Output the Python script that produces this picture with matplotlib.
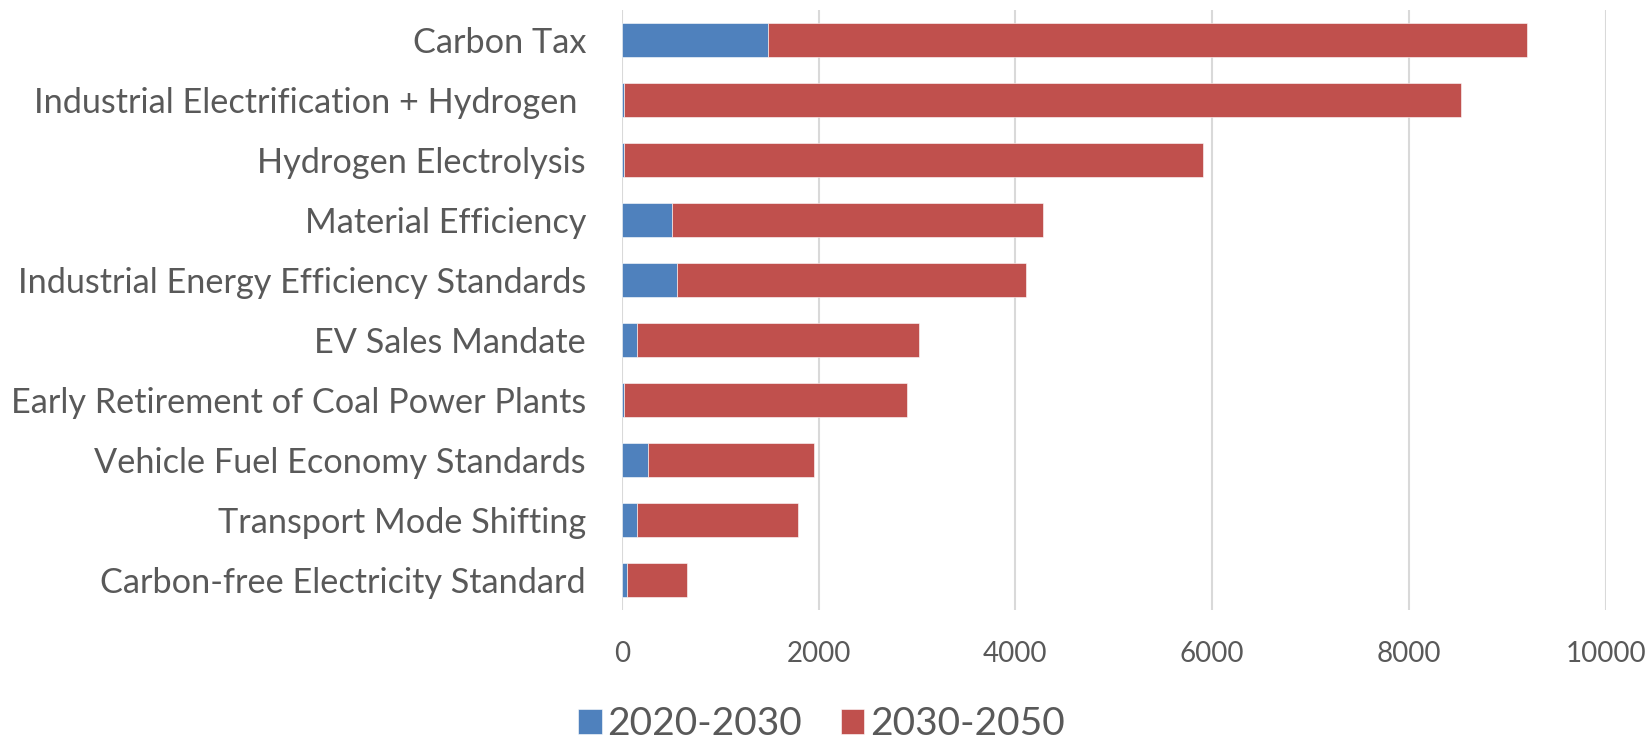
import matplotlib
matplotlib.use("Agg")
import matplotlib.pyplot as plt

# data, top to bottom
policies = [
    "Carbon Tax",
    "Industrial Electrification + Hydrogen ",
    "Hydrogen Electrolysis",
    "Material Efficiency",
    "Industrial Energy Efficiency Standards",
    "EV Sales Mandate",
    "Early Retirement of Coal Power Plants",
    "Vehicle Fuel Economy Standards",
    "Transport Mode Shifting",
    "Carbon-free Electricity Standard",
]
period_2020_2030 = [1480, 20, 20, 512, 563, 156, 20, 268, 156, 51]
period_2030_2050 = [7726, 8513, 5889, 3766, 3542, 2867, 2878, 1684, 1634, 610]
x_ticks = [0, 2000, 4000, 6000, 8000, 10000]

plt.rcParams['font.family'] = ['Lato', 'DejaVu Sans']
grey = '#595959'

fig = plt.figure(figsize=(16.5, 7.47), dpi=100)
ax = fig.add_axes([622 / 1650, 1 - 610 / 747, 983.5 / 1650, 600 / 747])

y = list(range(len(policies)))
ax.barh(y, period_2020_2030, height=0.57, color='#4F81BD', label='2020-2030',
        edgecolor='white', linewidth=0.4, zorder=3)
ax.barh(y, period_2030_2050, left=period_2020_2030, height=0.57, color='#C0504D',
        label='2030-2050', edgecolor='white', linewidth=0.4, zorder=3)

ax.set_ylim(len(policies) - 0.5, -0.5)
ax.set_xlim(0, 10000)
ax.set_yticks(y)
ax.set_yticklabels(policies, fontsize=24.7, color=grey)
ax.set_xticks(x_ticks)
ax.set_xticklabels([str(t) for t in x_ticks], fontsize=20, color=grey)
ax.tick_params(axis='y', length=0, pad=26)
ax.tick_params(axis='x', length=0, pad=22)
ax.grid(axis='x', color='#d9d9d9', linewidth=1.5, zorder=0)
for s in ax.spines.values():
    s.set_visible(False)

fig.legend(loc='center', bbox_to_anchor=(0.498, 1 - 724 / 747), ncol=2, frameon=False,
           fontsize=28, labelcolor=grey, handlelength=0.6, handleheight=0.6,
           handletextpad=0.15, columnspacing=1.0)

fig.savefig('out.png', dpi=100)
